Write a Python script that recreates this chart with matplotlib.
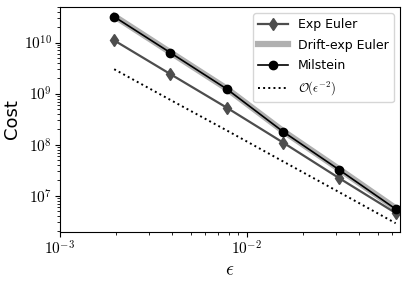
import matplotlib
matplotlib.use('Agg')
import matplotlib.pyplot as plt
from matplotlib.ticker import FuncFormatter
import numpy as np

plt.rcParams['mathtext.fontset'] = 'cm'
plt.rcParams['font.family'] = 'DejaVu Sans'

eps = [2**-9, 2**-8, 2**-7, 2**-6, 2**-5, 2**-4]
cost_exp_euler = [1.1e10, 2.4e9, 5.3e8, 1.1e8, 2.2e7, 4.6e6]
cost_drift_exp = [3.3e10, 6.4e9, 1.25e9, 1.85e8, 3.3e7, 5.7e6]
cost_milstein = [3.2e10, 6.3e9, 1.23e9, 1.8e8, 3.2e7, 5.5e6]
ref_eps2 = [3.0e9, 7.5e8, 1.9e8, 4.7e7, 1.17e7, 2.9e6]

fig = plt.figure(figsize=(4.07, 2.84), dpi=100)
ax = fig.add_axes([0.147, 0.183, 0.836, 0.793])

ax.loglog(eps, cost_drift_exp, color='#b0b0b0', lw=4.5, label='Drift-exp Euler', zorder=1)
ax.loglog(eps, cost_exp_euler, color='#4d4d4d', marker='d', ms=6, lw=1.6, label='Exp Euler', zorder=2)
ax.loglog(eps, cost_milstein, color='black', marker='o', ms=6, lw=1.2, label='Milstein', zorder=3)
ax.loglog(eps, ref_eps2, color='black', ls=':', lw=1.4, label=r'$\mathcal{O}(\epsilon^{-2})$')

ax.set_xlim(1e-3, 0.066)
ax.set_ylim(1.95e6, 5e10)
fmt = FuncFormatter(lambda v, p: r'$10^{%d}$' % round(np.log10(v)))
ax.xaxis.set_major_formatter(fmt)
ax.yaxis.set_major_formatter(fmt)
ax.tick_params(labelsize=11, pad=2)
ax.set_xlabel(r'$\epsilon$', fontsize=14, labelpad=2)
ax.set_ylabel('Cost', fontsize=13, labelpad=2)

h, l = ax.get_legend_handles_labels()
order = [1, 0, 2, 3]
ax.legend([h[i] for i in order], [l[i] for i in order], loc='upper right',
          fontsize=9, handlelength=2.4, labelspacing=0.6, borderaxespad=0.5)

fig.savefig('out.png', dpi=100)
